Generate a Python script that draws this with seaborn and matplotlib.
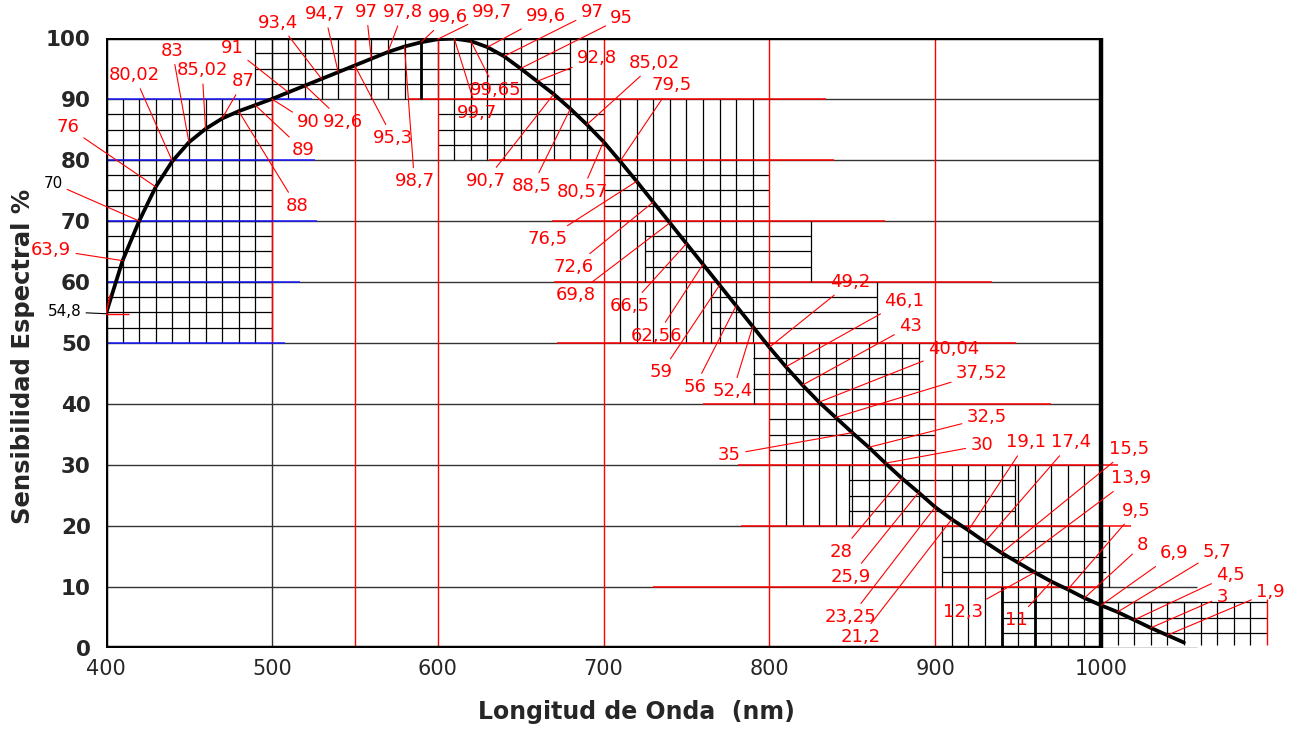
import numpy as np
import matplotlib
matplotlib.use("Agg")
import matplotlib.pyplot as plt
import seaborn as sns

# ── Data ──────────────────────────────────────────────────────────────────────
wavelength = [400, 410, 420, 430, 440, 450, 460, 470, 480, 490,
              500, 510, 520, 530, 540, 550, 560, 570, 580, 590,
              600, 610, 620, 630, 640, 650, 660, 670, 680, 690,
              700, 710, 720, 730, 740, 750, 760, 770, 780, 790,
              800, 810, 820, 830, 840, 850, 860, 870, 880, 890,
              900, 910, 920, 930, 940, 950, 960, 970, 980, 990,
              1000, 1010, 1020, 1030, 1040, 1050]

# curve
sensitivity = [54.8, 63.5, 70.0, 75.6, 79.8, 82.9, 85.1, 86.8, 88.0, 89.0,
               90.0, 91.1, 92.2, 93.3, 94.4, 95.5, 96.6, 97.7, 98.6, 99.3,
               99.8, 99.9, 99.5, 98.5, 97.0, 95.0, 92.9, 90.8, 88.4, 85.8,
               83.0, 79.8, 76.5, 73.1, 69.7, 66.3, 62.9, 59.5, 56.1, 52.7,
               49.3, 46.1, 43.1, 40.3, 37.8, 35.3, 32.9, 30.3, 27.8, 25.5,
               23.1, 21.1, 19.3, 17.4, 15.6, 14.0, 12.4, 10.9, 9.6, 8.2,
               7.0, 5.9, 4.6, 3.3, 2.1, 0.9]

# value labels written next to the curve (one per point, up to 1040 nm)
value_labels = ["54,8", "63,9", "70", "76", "80,02", "83", "85,02", "87", "88", "89",
                "90", "91", "92,6", "93,4", "94,7", "95,3", "97", "97,8", "98,7", "99,6",
                "99,7", "99,7", "99,65", "99,6", "97", "95", "92,8", "90,7", "88,5", "85,02",
                "80,57", "79,5", "76,5", "72,6", "69,8", "66,5", "62,56", "59", "56", "52,4",
                "49,2", "46,1", "43", "40,04", "37,52", "35", "32,5", "30", "28", "25,9",
                "23,25", "21,2", "19,1", "17,4", "15,5", "13,9", "12,3", "11", "9,5", "8",
                "6,9", "5,7", "4,5", "3", "1,9"]
black_labels = [0, 2]      # indices of the labels printed in black

x_ticks = [400, 500, 600, 700, 800, 900, 1000]
y_ticks = [0, 10, 20, 30, 40, 50, 60, 70, 80, 90, 100]

# ── Layout (label text positions, nm / %) ─────────────────────────────────────
label_pos = [(375, 55.1), (367, 65.3), (368, 76.2), (377, 85.4), (417, 93.9),
             (440, 97.9), (458, 94.7), (483, 92.9), (515, 72.5), (519, 81.6),
             (522, 86.2), (476, 98.4), (543, 86.3), (504, 102.5), (532, 103.9),
             (573, 83.6), (557, 104.3), (579, 104.2), (586, 76.5), (606, 103.4),
             (633, 104.2), (624, 87.7), (635, 91.4), (665, 103.6), (693, 104.2),
             (711, 103.3), (696, 96.8), (629, 76.6), (657, 75.7), (731, 95.9),
             (687, 74.8), (741, 92.3), (666, 67.1), (682, 62.5), (683, 57.9),
             (716, 56.1), (732, 51.2), (735, 45.2), (755, 42.8), (778, 42.1),
             (849, 60.0), (881, 56.9), (885, 52.8), (911, 49.0), (928, 45.1),
             (776, 31.7), (931, 37.8), (928, 33.2), (843, 15.8), (849, 11.7),
             (849, 5.1), (855, 1.8), (955, 33.7), (982, 33.7), (1017, 32.6),
             (1018, 27.8), (917, 5.9), (949, 4.6), (1021, 22.5), (1025, 16.9),
             (1044, 15.5), (1070, 15.8), (1078, 12.0), (1073, 8.4), (1102, 9.2)]

PX_NM = 995 / 600.0          # pixels per nm in the reference
RED, BLUE, GRID = "#ff0000", "#1a1aff", "#333333"

sns.set_theme(style="white")
plt.rcParams["font.family"] = ["DejaVu Sans"]

fig = plt.figure(figsize=(12.97, 7.31), dpi=100)
ax = fig.add_axes([106 / 1297, 83 / 731, 1184 / 1297, 610 / 731])
ax.set_xlim(400, 400 + 1184 / PX_NM)
ax.set_ylim(0, 100)
for s in ax.spines.values():
    s.set_visible(False)

# ── main grid ────────────────────────────────────────────────────────────────
ax.hlines(y_ticks[1:-1], 400, 1000, color=GRID, lw=1.0, zorder=1)
ax.vlines(500, 0, 100, color=GRID, lw=1.0, zorder=1)
ax.vlines([550, 600, 700, 800, 900], -1, 100, color=RED, lw=1.0, zorder=2)
ax.vlines(500, 50, 90, color=RED, lw=1.0, zorder=2)

# coloured stretches of the 10 % lines
segments = [
    (90, 393, 524, BLUE), (80, 393, 526, BLUE), (70, 392, 527, BLUE),
    (60, 393, 517, BLUE), (50, 393, 508, BLUE),
    (90, 583, 834, RED), (80, 631, 839, RED), (70, 669, 870, RED),
    (60, 670, 934, RED), (50, 672, 949, RED), (40, 760, 970, RED),
    (30, 781, 1010, RED), (20, 783, 1018, RED), (10, 730, 1000, RED),
]
for y, x0, x1, c in segments:
    ax.hlines(y, x0, x1, color=c, lw=1.1, zorder=2)
ax.hlines([10, 7.5, 0], 1000, 1058, color=GRID, lw=1.0, zorder=1)

# ── fine 10 nm / 2.5 % sub-grids ─────────────────────────────────────────────
vert_groups = [(410, 490, 50, 90), (490, 690, 90, 100), (610, 690, 80, 90),
               (710, 790, 70, 90), (710, 790, 50, 70), (810, 890, 30, 50),
               (810, 890, 20, 30), (910, 990, 0, 30), (1010, 1090, 0.5, 7.5)]
for x0, x1, y0, y1 in vert_groups:
    ax.vlines(np.arange(x0, x1 + 1, 10), y0, y1, color="black", lw=0.9, zorder=1)

horiz_groups = [(52.5, 87.5, 400, 500), (92.5, 97.5, 490, 680), (82.5, 87.5, 600, 700),
                (72.5, 77.5, 700, 800), (62.5, 67.5, 725, 825), (52.5, 57.5, 765, 865),
                (42.5, 47.5, 790, 890), (32.5, 37.5, 800, 900), (22.5, 27.5, 848, 948),
                (12.5, 17.5, 904, 1003), (2.5, 7.5, 941, 1100)]
for y0, y1, x0, x1 in horiz_groups:
    ax.hlines(np.arange(y0, y1 + 0.1, 2.5), x0, x1, color="black", lw=0.9, zorder=1)

# patch edges and heavier strokes
ax.vlines([725, 825], 60, 70, color="black", lw=0.9)
ax.vlines([765, 865], 50, 60, color="black", lw=0.9)
ax.vlines([791], 40, 50, color="black", lw=0.9)
ax.vlines([848, 948], 20, 30, color="black", lw=0.9)
ax.vlines([904, 1005], 10, 20, color="black", lw=0.9)
ax.vlines([590], 90, 100, color="black", lw=2.0)
ax.vlines([940, 960], 0, 10, color="black", lw=2.0)
ax.vlines([1100], 0.5, 8, color=RED, lw=1.0)

# ── frame ────────────────────────────────────────────────────────────────────
ax.hlines([0, 100], 400, 1000, color="black", lw=3.2, zorder=6)
ax.vlines([400, 1000], 0, 100, color="black", lw=3.2, zorder=6)

# ── curve ────────────────────────────────────────────────────────────────────
sns.lineplot(x=wavelength, y=sensitivity, color="black", lw=2.7, ax=ax, zorder=7,
             solid_joinstyle="round", solid_capstyle="round")

# ── value labels with leader lines ───────────────────────────────────────────
for i, txt in enumerate(value_labels):
    xa, ya = wavelength[i], sensitivity[i]
    tx, ty = label_pos[i]
    black = i in black_labels
    ax.annotate(
        txt, xy=(xa, ya), xytext=(tx, ty),
        ha="center", va="center",
        fontsize=11 if black else 13,
        color="black" if black else RED,
        arrowprops=dict(arrowstyle="-", color="black" if i == 0 else RED,
                        lw=0.8, shrinkA=1, shrinkB=0),
        annotation_clip=False, zorder=8,
    )
# small red cross on the first point
ax.hlines(sensitivity[0], wavelength[0] - 4, wavelength[0] + 14, color=RED, lw=1.0, zorder=8)
ax.plot([wavelength[0] - 6, wavelength[0] + 2.5], [sensitivity[0] - 7, sensitivity[0] + 3],
        color=RED, lw=1.0, zorder=8)

# ── ticks and labels ─────────────────────────────────────────────────────────
ax.set_xticks(x_ticks)
ax.set_yticks(y_ticks)
ax.tick_params(axis="x", length=0, pad=8, labelsize=15)
ax.tick_params(axis="y", length=0, pad=11, labelsize=15.5)
for lbl in ax.get_yticklabels():
    lbl.set_fontweight("bold")
ax.set_xlabel("")
ax.set_ylabel("")

fig.text(23 / 1297, 1 - 356 / 731, "Sensibilidad Espectral %", rotation=90,
         ha="center", va="center", fontsize=17.5, fontweight="bold")
fig.text(636 / 1297, 1 - 712 / 731, "Longitud de Onda  (nm)",
         ha="center", va="center", fontsize=17, fontweight="bold")

fig.savefig("out.png", dpi=100)
